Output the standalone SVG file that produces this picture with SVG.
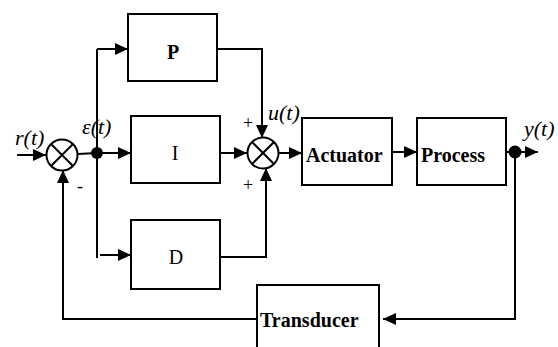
<svg xmlns="http://www.w3.org/2000/svg" width="558" height="347" viewBox="0 0 558 347">
<defs>
<style>
.box{fill:#fff;stroke:#000;stroke-width:2}
.ln{fill:none;stroke:#000;stroke-width:2}
.arr{marker-end:url(#ah)}
text{font-family:'Liberation Serif','Times New Roman','DejaVu Serif',serif;fill:#000}
.lbl{font-size:20px}
.b{font-weight:bold}
.i{font-style:italic;font-size:22px}
.pm{font-size:18px}
</style>
<marker id="ah" markerUnits="userSpaceOnUse" markerWidth="13" markerHeight="12" refX="13" refY="6" orient="auto">
<path d="M0,0 L13,6 L0,12 z" fill="#000"/>
</marker>
</defs>
<rect width="558" height="347" fill="#fff"/>
<g id="connectors">
<path class="ln arr" d="M17,155 L46,155"/>
<path class="ln" d="M78,154 L97,153"/>
<path class="ln arr" d="M97,49 L128,49"/>
<path class="ln" d="M97,49 L97,258"/>
<path class="ln arr" d="M97,153 L131,153"/>
<path class="ln arr" d="M100,255 L131,255"/>
<path class="ln arr" d="M217,49 L262,49 L262,138"/>
<path class="ln arr" d="M220,153 L247,153"/>
<path class="ln arr" d="M220,257 L266,257 L266,168"/>
<path class="ln arr" d="M279,153 L302,153"/>
<path class="ln arr" d="M392,152 L417,152"/>
<path class="ln" d="M506,152 L515,152"/>
<path class="ln arr" d="M515,152 L538,152"/>
<path class="ln arr" d="M515,152 L515,319 L383,319"/>
<path class="ln arr" d="M257,319 L63,319 L63,170"/>
</g>
<g id="sum1">
<circle cx="62" cy="155" r="15.5" class="ln" fill="#fff"/>
<path class="ln" d="M51,144 L73,166 M73,144 L51,166"/>
<text class="lbl i" x="15" y="145">r(t)</text>
<text class="pm" x="77" y="192">-</text>
</g>
<g id="branch">
<circle cx="97" cy="153" r="6" fill="#000"/>
<text class="lbl i" x="82" y="134">ε(t)</text>
</g>
<g id="P">
<rect class="box" x="128" y="14" width="89" height="67"/>
<text class="lbl b" x="173" y="59" text-anchor="middle">P</text>
</g>
<g id="I">
<rect class="box" x="131" y="116" width="89" height="67"/>
<text class="lbl" x="175" y="160" text-anchor="middle">I</text>
</g>
<g id="D">
<rect class="box" x="131" y="220" width="89" height="69"/>
<text class="lbl" x="176" y="264" text-anchor="middle">D</text>
</g>
<g id="sum2">
<circle cx="263" cy="153" r="15.5" class="ln" fill="#fff"/>
<path class="ln" d="M252,142 L274,164 M274,142 L252,164"/>
<text class="pm" x="243" y="129">+</text>
<text class="pm" x="243" y="191">+</text>
<text class="lbl i" x="268" y="120">u(t)</text>
</g>
<g id="Actuator">
<rect class="box" x="302" y="118" width="90" height="67"/>
<text class="lbl b" x="306" y="162">Actuator</text>
</g>
<g id="Process">
<rect class="box" x="417" y="118" width="89" height="67"/>
<text class="lbl b" x="421" y="162">Process</text>
</g>
<g id="output">
<circle cx="515" cy="152" r="6.5" fill="#000"/>
<text class="lbl i" x="524" y="136">y(t)</text>
</g>
<g id="Transducer">
<rect class="box" x="257" y="285" width="122" height="70"/>
<text class="lbl b" x="260" y="327">Transducer</text>
</g>
</svg>
